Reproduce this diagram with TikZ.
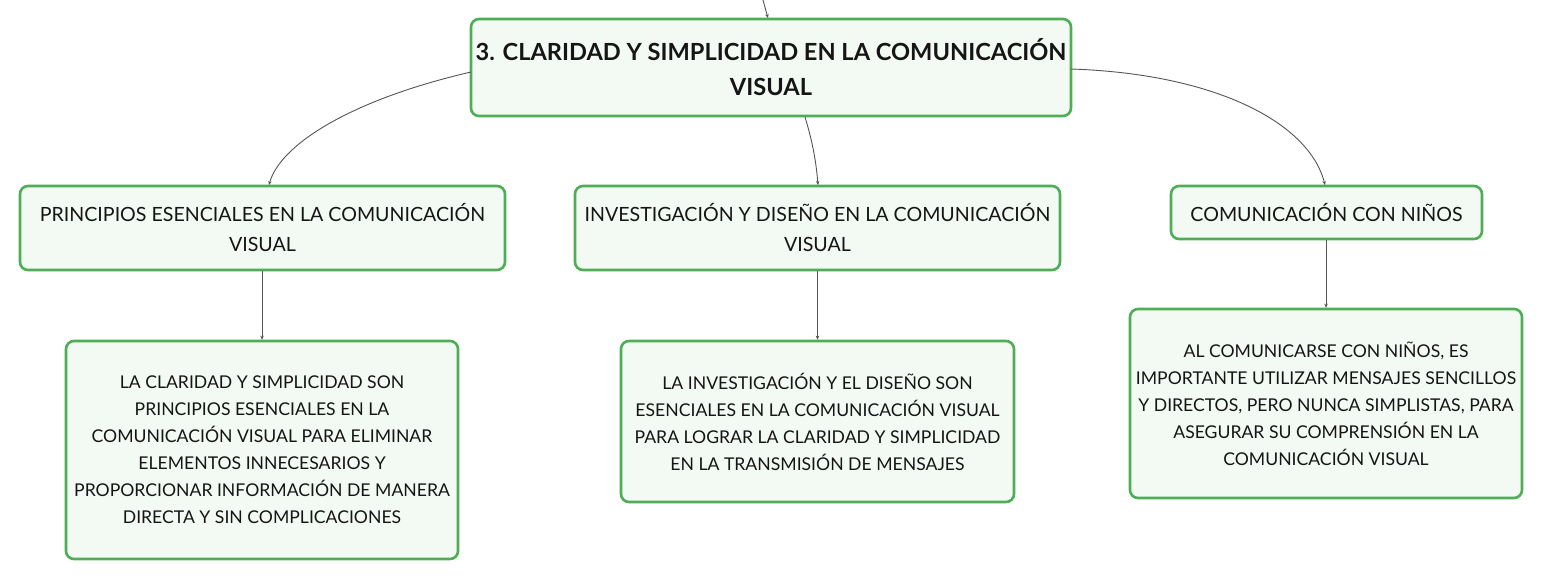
\documentclass[tikz,border=0pt]{standalone}
\usepackage{fontspec}
\setmainfont{Lato}
\usetikzlibrary{arrows.meta}
\definecolor{boxgreen}{HTML}{4DAE55}
\definecolor{boxfill}{HTML}{F3FAF4}
\definecolor{linkgray}{HTML}{555555}
\definecolor{txt}{HTML}{151515}
\begin{document}
\begin{tikzpicture}[x=1pt,y=-1pt,
  box/.style={draw=boxgreen, line width=2.6pt, fill=boxfill, rounded corners=8pt,
    align=center, inner sep=0pt, text=txt, font=\fontsize{17.6}{27}\selectfont},
  midbox/.style={box, font=\fontsize{19.6}{30}\selectfont},
  titlebox/.style={box, font=\bfseries\fontsize{23.6}{35}\selectfont},
  link/.style={draw=linkgray, line width=0.9pt, -{Stealth[length=4pt,width=3.5pt]}}]
\useasboundingbox (0,0) rectangle (1543,581);
\fill[white] (0,0) rectangle (1543,581);

\node[titlebox, minimum width=600pt, minimum height=97pt] (top) at (771,67.5)
  {3. CLARIDAD Y SIMPLICIDAD EN LA COMUNICACIÓN\\VISUAL};
\node[midbox, minimum width=485pt, minimum height=84pt] (a) at (262.5,228)
  {PRINCIPIOS ESENCIALES EN LA COMUNICACIÓN\\VISUAL};
\node[midbox, minimum width=485pt, minimum height=84pt] (b) at (817.5,228)
  {INVESTIGACIÓN Y DISEÑO EN LA COMUNICACIÓN\\VISUAL};
\node[midbox, minimum width=311pt, minimum height=53pt] (c) at (1326.5,212.5)
  {COMUNICACIÓN CON NIÑOS};
\node[box, minimum width=392pt, minimum height=218pt] (la) at (262,450)
  {LA CLARIDAD Y SIMPLICIDAD SON\\PRINCIPIOS ESENCIALES EN LA\\COMUNICACIÓN VISUAL PARA ELIMINAR\\ELEMENTOS INNECESARIOS Y\\PROPORCIONAR INFORMACIÓN DE MANERA\\DIRECTA Y SIN COMPLICACIONES};
\node[box, minimum width=393pt, minimum height=161pt] (lb) at (817.5,421.5)
  {LA INVESTIGACIÓN Y EL DISEÑO SON\\ESENCIALES EN LA COMUNICACIÓN VISUAL\\PARA LOGRAR LA CLARIDAD Y SIMPLICIDAD\\EN LA TRANSMISIÓN DE MENSAJES};
\node[box, minimum width=392pt, minimum height=189pt] (lc) at (1326,403.5)
  {AL COMUNICARSE CON NIÑOS, ES\\IMPORTANTE UTILIZAR MENSAJES SENCILLOS\\Y DIRECTOS, PERO NUNCA SIMPLISTAS, PARA\\ASEGURAR SU COMPRENSIÓN EN LA\\COMUNICACIÓN VISUAL};

\coordinate (in) at (763,0);
\coordinate (topin) at (768,18);
\coordinate (tl) at (471,72);
\coordinate (tr) at (1071,69);
\coordinate (tb) at (805,117);
\coordinate (ain) at (269,185);
\coordinate (bin) at (818,185);
\coordinate (cin) at (1325,185);

\draw[link] (in) .. controls (765,8) .. (topin);
\draw[link] (tl) .. controls (350,100) and (280,145) .. (ain);
\draw[link] (tb) .. controls (812,140) and (816,160) .. (bin);
\draw[link] (tr) .. controls (1220,74) and (1310,125) .. (cin);
\draw[link] (a.south -| la.north) -- (la.north);
\draw[link] (b.south) -- (lb.north);
\draw[link] (c.south -| lc.north) -- (lc.north);
\end{tikzpicture}
\end{document}
